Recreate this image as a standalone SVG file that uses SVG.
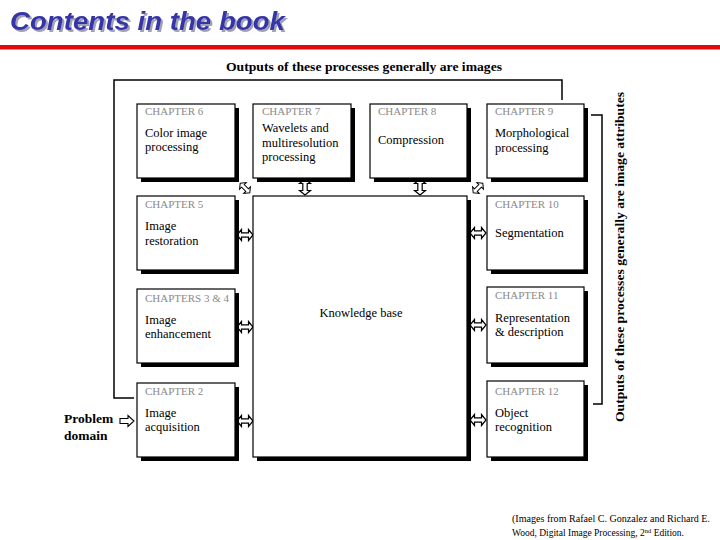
<svg xmlns="http://www.w3.org/2000/svg" xmlns:xlink="http://www.w3.org/1999/xlink" width="720" height="540" viewBox="0 0 720 540">
<style>
.lbl{font-family:"Liberation Serif",serif;font-size:11px;fill:#8a8a8a}
.txt{font-family:"Liberation Serif",serif;font-size:12.5px;fill:#000}
.box{fill:#fff;stroke:#000;stroke-width:1.2}
.sh{fill:#000}
.ln{fill:none;stroke:#000;stroke-width:1.5}
.hd{font-family:"Liberation Serif",serif;font-weight:bold;font-size:13.5px;fill:#000}
.foot{font-family:"Liberation Serif",serif;font-size:9.5px;fill:#000}
</style>
<defs>
<filter id="tshadow" x="-5%" y="-20%" width="110%" height="150%">
<feOffset in="SourceAlpha" dx="2" dy="2" result="o"/>
<feFlood flood-color="#a0a0b8"/>
<feComposite in2="o" operator="in" result="s"/>
<feMerge><feMergeNode in="s"/><feMergeNode in="SourceGraphic"/></feMerge>
</filter>
<path id="dbl" d="M-8,0 L-3.5,-5.5 L-3.5,-2.2 L3.5,-2.2 L3.5,-5.5 L8,0 L3.5,5.5 L3.5,2.2 L-3.5,2.2 L-3.5,5.5 Z" fill="#fff" stroke="#000" stroke-width="1.2"/>
<path id="sgl" d="M-7,-2.5 L1,-2.5 L1,-5.5 L7,0 L1,5.5 L1,2.5 L-7,2.5 Z" fill="#fff" stroke="#000" stroke-width="1.1"/>
</defs>
<rect width="720" height="540" fill="#fff"/>
<g id="title">
<text x="10" y="30" font-family="Liberation Sans,Arial,sans-serif" font-weight="bold" font-style="italic" font-size="26" fill="#3535a8" textLength="275" lengthAdjust="spacingAndGlyphs" filter="url(#tshadow)">Contents in the book</text>
<rect x="0" y="45" width="720" height="4.5" fill="#e00a0a"/>
</g>
<g id="connectors">
<polyline class="ln" points="562,100 562,80 114,80 114,398 134,398"/>
<polyline class="ln" points="591,115 602,115 602,404 593,404" stroke-width="2"/>
<use xlink:href="#sgl" transform="translate(127,421)"/>
<use xlink:href="#dbl" transform="translate(245,235)"/>
<use xlink:href="#dbl" transform="translate(245,327)"/>
<use xlink:href="#dbl" transform="translate(245,421)"/>
<use xlink:href="#dbl" transform="translate(478,233)"/>
<use xlink:href="#dbl" transform="translate(478,325)"/>
<use xlink:href="#dbl" transform="translate(478,420)"/>
<use xlink:href="#dbl" transform="translate(305,187) rotate(90)"/>
<use xlink:href="#dbl" transform="translate(420,187) rotate(90)"/>
<use xlink:href="#dbl" transform="translate(245,188) rotate(45) scale(0.85)"/>
<use xlink:href="#dbl" transform="translate(478,188) rotate(-45) scale(0.85)"/>
</g>
<g id="top-label"><text class="hd" x="364" y="71" text-anchor="middle" textLength="276" lengthAdjust="spacingAndGlyphs">Outputs of these processes generally are images</text></g>
<g id="side-label"><text class="hd" transform="translate(624,257) rotate(-90)" x="0" y="0" text-anchor="middle" textLength="330" lengthAdjust="spacingAndGlyphs">Outputs of these processes generally are image attributes</text></g>
<g id="ch6"><rect class="sh" x="141" y="108" width="98" height="74"/><rect class="box" x="137" y="104" width="98" height="74"/><text class="lbl" x="145" y="115">CHAPTER 6</text><text class="txt" x="145" y="137">Color image</text><text class="txt" x="145" y="151">processing</text></g>
<g id="ch7"><rect class="sh" x="257" y="108" width="98" height="74"/><rect class="box" x="253" y="104" width="98" height="74"/><text class="lbl" x="262" y="115">CHAPTER 7</text><text class="txt" x="262" y="132">Wavelets and</text><text class="txt" x="262" y="147">multiresolution</text><text class="txt" x="262" y="161">processing</text></g>
<g id="ch8"><rect class="sh" x="374" y="108" width="97" height="74"/><rect class="box" x="370" y="104" width="97" height="74"/><text class="lbl" x="378" y="115">CHAPTER 8</text><text class="txt" x="378" y="144">Compression</text></g>
<g id="ch9"><rect class="sh" x="491" y="108" width="97" height="74"/><rect class="box" x="487" y="104" width="97" height="74"/><text class="lbl" x="495" y="115">CHAPTER 9</text><text class="txt" x="495" y="137">Morphological</text><text class="txt" x="495" y="152">processing</text></g>
<g id="ch5"><rect class="sh" x="141" y="200" width="98" height="74"/><rect class="box" x="137" y="196" width="98" height="74"/><text class="lbl" x="145" y="208">CHAPTER 5</text><text class="txt" x="145" y="230">Image</text><text class="txt" x="145" y="245">restoration</text></g>
<g id="ch3-4"><rect class="sh" x="141" y="293" width="98" height="74"/><rect class="box" x="137" y="289" width="98" height="74"/><text class="lbl" x="145" y="302">CHAPTERS 3 &amp; 4</text><text class="txt" x="145" y="324">Image</text><text class="txt" x="145" y="338">enhancement</text></g>
<g id="ch2"><rect class="sh" x="141" y="387" width="98" height="74"/><rect class="box" x="137" y="383" width="98" height="74"/><text class="lbl" x="145" y="395">CHAPTER 2</text><text class="txt" x="145" y="417">Image</text><text class="txt" x="145" y="431">acquisition</text></g>
<g id="knowledge-base"><rect class="sh" x="257" y="200" width="214" height="261"/><rect class="box" x="253" y="196" width="214" height="261"/><text class="txt" x="361" y="317" text-anchor="middle">Knowledge base</text></g>
<g id="ch10"><rect class="sh" x="491" y="200" width="97" height="74"/><rect class="box" x="487" y="196" width="97" height="74"/><text class="lbl" x="495" y="208">CHAPTER 10</text><text class="txt" x="495" y="237">Segmentation</text></g>
<g id="ch11"><rect class="sh" x="491" y="291" width="97" height="76"/><rect class="box" x="487" y="287" width="97" height="76"/><text class="lbl" x="495" y="299">CHAPTER 11</text><text class="txt" x="495" y="322">Representation</text><text class="txt" x="495" y="336">&amp; description</text></g>
<g id="ch12"><rect class="sh" x="491" y="385" width="97" height="76"/><rect class="box" x="487" y="381" width="97" height="76"/><text class="lbl" x="495" y="395">CHAPTER 12</text><text class="txt" x="495" y="417">Object</text><text class="txt" x="495" y="431">recognition</text></g>
<g id="problem-domain"><text class="hd" x="64" y="423">Problem</text><text class="hd" x="64" y="440">domain</text></g>
<g id="footnote"><text class="foot" x="512" y="522" textLength="198" lengthAdjust="spacingAndGlyphs">(Images from Rafael C. Gonzalez and Richard E.</text><text class="foot" x="512" y="536">Wood, Digital Image Processing, 2<tspan font-size="6.5" dy="-3">nd</tspan><tspan dy="3"> Edition.</tspan></text></g>
</svg>
